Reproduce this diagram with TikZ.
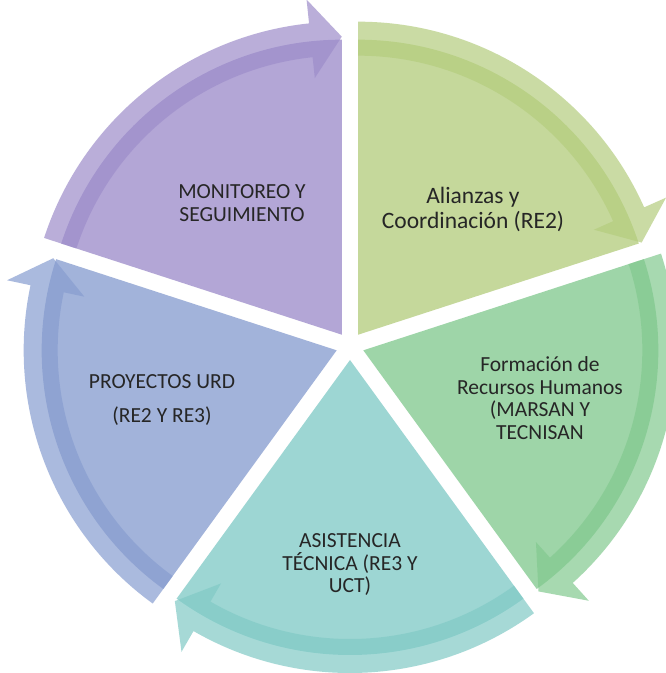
\documentclass[tikz,border=0pt]{standalone}
\usepackage{fontspec}
\setmainfont{Carlito}
\definecolor{sliceA}{RGB}{197,216,155}
\definecolor{arrowA}{RGB}{180,205,126}
\definecolor{sliceF}{RGB}{158,213,168}
\definecolor{arrowF}{RGB}{130,201,143}
\definecolor{sliceT}{RGB}{157,214,211}
\definecolor{arrowT}{RGB}{129,202,198}
\definecolor{sliceP}{RGB}{162,179,218}
\definecolor{arrowP}{RGB}{135,157,208}
\definecolor{sliceM}{RGB}{179,166,214}
\definecolor{arrowM}{RGB}{157,141,202}
\definecolor{labeltext}{RGB}{38,38,38}
\tikzset{
  slicefill/.style={fill=#1, draw=none},
  arrowfill/.style={fill=#1, fill opacity=0.7, draw=none},
  lbl/.style={text=labeltext, align=center, inner sep=0pt,
    font=\fontsize{21.5}{22.5}\selectfont},
  biglbl/.style={lbl, font=\fontsize{23.5}{25}\selectfont}
}
% #1 start angle, #2 end angle, #3 slice colour, #4 arrow colour
\newcommand\cycleseg[4]{%
  \pgfmathsetmacro\segmid{(#1+#2)/2}%
  \pgfmathsetmacro\headang{#2+6}%
  \begin{scope}[shift={(\segmid:14pt)}]
    \fill[slicefill=#3] (0,0) -- (#1:295pt)
      arc[start angle=#1, end angle=#2, radius=295pt] -- cycle;
    \fill[arrowfill=#4] (#1:313pt)
      arc[start angle=#1, end angle=\headang, radius=313pt]
      -- (\headang:337pt) -- (#2:298pt) -- (\headang:258pt)
      -- (\headang:279pt)
      arc[start angle=\headang, end angle=#1, radius=279pt] -- cycle;
  \end{scope}%
}
\begin{document}
\begin{tikzpicture}[x=1pt,y=1pt]
  \useasboundingbox (0,0) rectangle (666,673);
  \fill[white] (0,0) rectangle (666,673);
  \clip (0,0) rectangle (666,673);
  \coordinate (c) at (350,327);
  \begin{scope}[shift={(c)}]
    \cycleseg{90}{18}{sliceA}{arrowA}
    \cycleseg{18}{-54}{sliceF}{arrowF}
    \cycleseg{-54}{-126}{sliceT}{arrowT}
    \cycleseg{-126}{-198}{sliceP}{arrowP}
    \cycleseg{162}{90}{sliceM}{arrowM}
  \end{scope}
  \node[biglbl] (alianzas) at (473,464) {Alianzas y\\Coordinación (RE2)};
  \node[lbl] (monitoreo) at (242,470) {MONITOREO Y\\SEGUIMIENTO};
  \node[lbl] (formacion) at (540,275) {Formación de\\Recursos Humanos\\(MARSAN Y\\TECNISAN};
  \node[lbl] (asistencia) at (350,108) {ASISTENCIA\\TÉCNICA (RE3 Y\\UCT)};
  \node[lbl] (proyectos) at (162,273) {PROYECTOS URD\\[12pt](RE2 Y RE3)};
\end{tikzpicture}
\end{document}
